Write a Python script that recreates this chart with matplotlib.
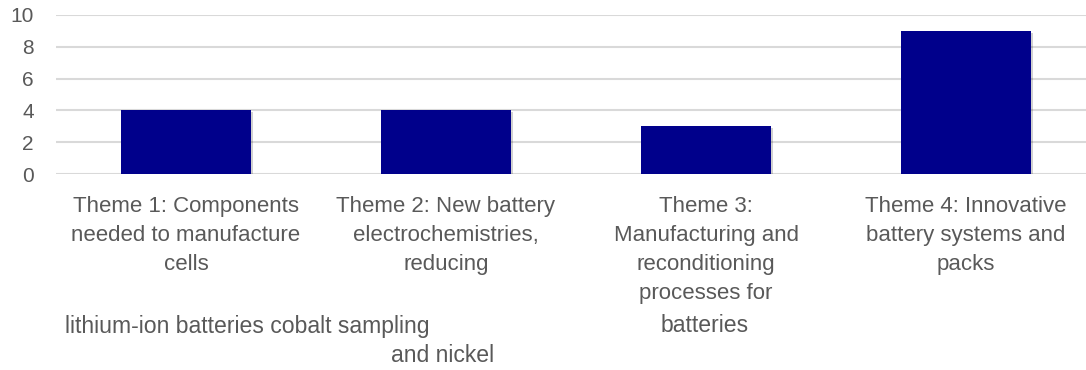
import matplotlib
matplotlib.use("Agg")
import matplotlib.pyplot as plt
import matplotlib.patheffects as pe

categories = [
    "Theme 1: Components\nneeded to manufacture\ncells",
    "Theme 2: New battery\nelectrochemistries,\nreducing",
    "Theme 3:\nManufacturing and\nreconditioning\nprocesses for",
    "Theme 4: Innovative\nbattery systems and\npacks",
]
values = [4, 4, 3, 9]
yticks = [0, 2, 4, 6, 8, 10]
extra_texts = [
    ("lithium-ion batteries cobalt sampling", 247, 326),
    ("and nickel", 443, 356),
    ("batteries", 705, 326),
]

W, H = 1086, 370
plt.rcParams['font.family'] = ['Liberation Sans', 'DejaVu Sans']
fig = plt.figure(figsize=(W / 100, H / 100), dpi=100)
left, right, top, bottom = 56, 1086, 15, 174
ax = fig.add_axes([left / W, 1 - bottom / H, (right - left) / W, (bottom - top) / H])

x = list(range(len(categories)))
bars = ax.bar(x, values, width=0.5, color='#00008B', zorder=3)
for b in bars:
    b.set_path_effects([pe.SimplePatchShadow(offset=(1.5, -1.5), shadow_rgbFace='#000000', alpha=0.18), pe.Normal()])

ax.set_xlim(-0.5, 3.5 - 10 / 260)
ax.set_ylim(0, 10)
ax.set_yticks(yticks)
ax.yaxis.grid(True, color='#D9D9D9', linewidth=1.5, zorder=0)
ax.set_axisbelow(True)
for s in ax.spines.values():
    s.set_visible(False)
ax.tick_params(axis='both', length=0, colors='#595959')
ax.tick_params(axis='y', pad=16, labelsize=15)
ax.tick_params(axis='x', pad=15.5, labelsize=16)
ax.set_xticks(x)
ax.set_xticklabels(categories, linespacing=1.52, va='top', ha='center')

for txt, px, py in extra_texts:
    fig.text(px / W, 1 - py / H, txt, ha='center', va='center', fontsize=16.6, color='#595959')

fig.savefig('out.png', dpi=100)
